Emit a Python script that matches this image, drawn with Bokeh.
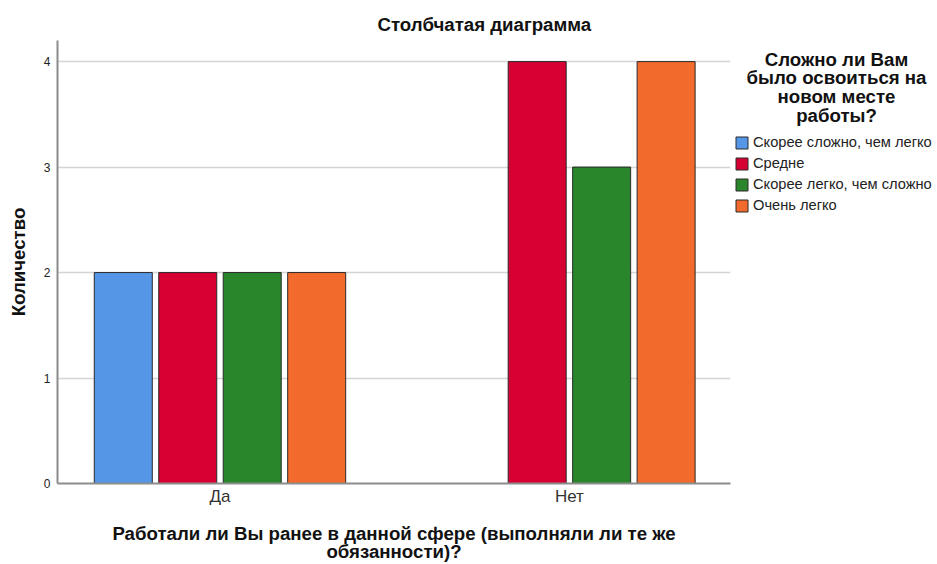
from bokeh.plotting import figure
from bokeh.layouts import row
from bokeh.models import ColumnDataSource, Legend, LegendItem, Label, FixedTicker, Range1d, Title
from bokeh.embed import file_html
from bokeh.resources import INLINE

# ---- data ----
categories = ["Да", "Нет"]
series_names = ["Скорее сложно, чем легко", "Средне", "Скорее легко, чем сложно", "Очень легко"]
skoree_slozhno = [2, 0]
sredne = [2, 4]
skoree_legko = [2, 3]
ochen_legko = [2, 4]
y_ticks = [0, 1, 2, 3, 4]

chart_title = "Столбчатая диаграмма"
x_title = "Работали ли Вы ранее в данной сфере (выполняли ли те же\nобязанности)?"
y_title = "Количество"
legend_title_lines = ["Сложно ли Вам", "было освоиться на", "новом месте", "работы?"]

# ---- styles ----
colors = ["#5596E6", "#D70032", "#2A862B", "#F26A2C"]
FONT = "Liberation Sans"
HEAD = "18.67px"
slot = 0.1845
bar_w = 0.166
H = 564
TOP = 40
FRAME_H = 443
BOTTOM = H - TOP - FRAME_H

series_values = [skoree_slozhno, sredne, skoree_legko, ochen_legko]

p = figure(width=734, height=H, output_backend="svg", toolbar_location=None,
           x_range=Range1d(-0.465, 1.461), y_range=Range1d(0, 4.2),
           min_border_left=57, min_border_right=4, min_border_top=TOP, min_border_bottom=BOTTOM)
p.outline_line_color = None
p.background_fill_color = "white"

for i, (name, vals, col) in enumerate(zip(series_names, series_values, colors)):
    xs, tops = [], []
    for ci, v in enumerate(vals):
        if v > 0:
            xs.append(ci + (i - 1.5) * slot)
            tops.append(v)
    src = ColumnDataSource(dict(x=xs, top=tops))
    p.vbar(x="x", top="top", bottom=0, width=bar_w, source=src,
           fill_color=col, line_color="#2a2a2a", line_width=1)

# title
t = Title(text=chart_title, align="left", offset=320, text_font=FONT, text_font_style="bold",
          text_font_size=HEAD, text_color="#111111", standoff=11)
p.add_layout(t, "above")

# axes
p.xaxis.ticker = FixedTicker(ticks=list(range(len(categories))))
p.xaxis.major_label_overrides = {i: c for i, c in enumerate(categories)}
p.xaxis.major_label_text_font = FONT
p.xaxis.major_label_text_font_size = "17px"
p.xaxis.major_label_text_color = "#333333"
p.xaxis.major_label_standoff = 3
p.xaxis.major_tick_out = 0
p.xaxis.major_tick_in = 0
p.xaxis.major_tick_line_color = None
p.xaxis.minor_tick_line_color = None
p.xaxis.axis_line_color = "#8c8c8c"
p.xaxis.axis_line_width = 2
p.xaxis.axis_label = x_title
p.xaxis.axis_label_text_font = FONT
p.xaxis.axis_label_text_font_style = "bold"
p.xaxis.axis_label_text_font_size = HEAD
p.xaxis.axis_label_text_color = "#111111"
p.xaxis.axis_label_standoff = 14
p.xaxis.axis_label_text_line_height = 0.88

p.yaxis.ticker = FixedTicker(ticks=y_ticks)
p.yaxis.major_label_text_font = FONT
p.yaxis.major_label_text_font_size = "12px"
p.yaxis.major_label_text_color = "#222222"
p.yaxis.major_label_standoff = 7
p.yaxis.major_tick_out = 0
p.yaxis.major_tick_in = 0
p.yaxis.major_tick_line_color = None
p.yaxis.minor_tick_line_color = None
p.yaxis.axis_line_color = "#8c8c8c"
p.yaxis.axis_line_width = 2
p.yaxis.axis_label = y_title
p.yaxis.axis_label_text_font = FONT
p.yaxis.axis_label_text_font_style = "bold"
p.yaxis.axis_label_text_font_size = HEAD
p.yaxis.axis_label_text_color = "#111111"
p.yaxis.axis_label_standoff = 12

p.xgrid.grid_line_color = None
p.ygrid.grid_line_color = "#d4d4d4"
p.ygrid.grid_line_width = 1.5

# ---- legend panel ----
LW = 937 - 734
q = figure(width=LW, height=H, output_backend="svg", toolbar_location=None,
           x_range=Range1d(0, LW), y_range=Range1d(0, FRAME_H),
           min_border_left=0, min_border_right=0, min_border_top=TOP, min_border_bottom=BOTTOM)
q.axis.visible = False
q.grid.visible = False
q.outline_line_color = None

# hidden stand-ins that only supply the legend swatches
proxies = []
for vals, col in zip(series_values, colors):
    r = q.vbar(x=list(range(len(vals))), top=vals, width=0.5, fill_color=col,
               line_color="#2a2a2a", line_width=1, visible=False)
    proxies.append(r)

for k, line in enumerate(legend_title_lines):
    q.add_layout(Label(x=102, y=FRAME_H - 18.5 - 18.8 * k, text=line,
                       text_font=FONT, text_font_style="bold", text_font_size=HEAD,
                       text_align="center", text_baseline="middle", text_color="#111111"))

GLYPH = 15
ROW = 16
SPACING = 5
legend_h = len(series_names) * ROW + (len(series_names) - 1) * SPACING
legend = Legend(items=[LegendItem(label=n, renderers=[r]) for n, r in zip(series_names, proxies)],
                location=(0, FRAME_H - 94 - legend_h))
legend.background_fill_alpha = 0
legend.border_line_color = None
legend.padding = 0
legend.margin = 0
legend.spacing = SPACING
legend.glyph_width = GLYPH
legend.glyph_height = GLYPH
legend.label_height = ROW
legend.label_standoff = 4
legend.label_text_font = FONT
legend.label_text_font_size = "14.67px"
legend.label_text_color = "#222222"
legend.label_text_baseline = "middle"
legend.click_policy = "none"
q.add_layout(legend)

layout = row(p, q)
open("out.html", "w").write(file_html(layout, INLINE))
